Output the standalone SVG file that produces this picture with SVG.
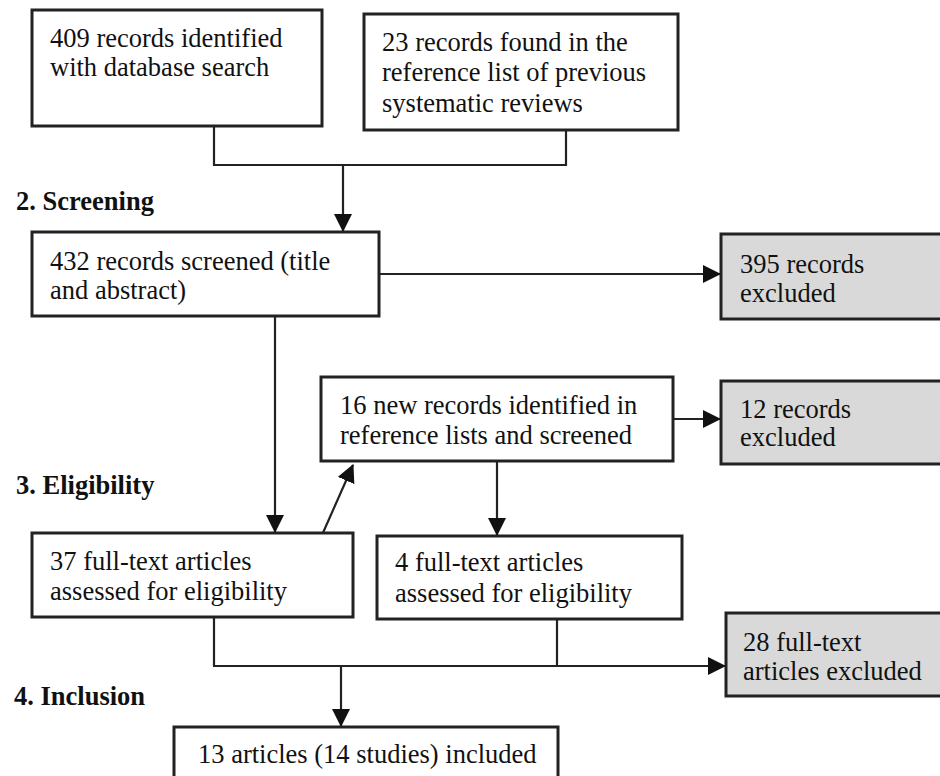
<svg xmlns="http://www.w3.org/2000/svg" width="940" height="776" viewBox="0 0 940 776">
<style>
.box{fill:#ffffff;stroke:#222222;stroke-width:3}
.ex{fill:#d9d9d9;stroke:#222222;stroke-width:3}
.t{font-family:'Liberation Serif','Tinos','Times New Roman','DejaVu Serif',serif;font-size:26.5px;fill:#111111}
.h{font-family:'Liberation Serif','Tinos','Times New Roman','DejaVu Serif',serif;font-size:26.5px;font-weight:bold;fill:#111111}
.c{fill:none;stroke:#222222;stroke-width:2.2}
</style>
<defs>
<marker id="ahb" markerWidth="18" markerHeight="18" refX="17" refY="9" orient="auto" markerUnits="userSpaceOnUse" viewBox="0 0 18 18">
<path d="M0,0 L18,9 L0,18 z" fill="#111111"/>
</marker>
</defs>
<rect width="940" height="776" fill="#ffffff"/>

<g id="labels">
<text class="h" x="16" y="210">2. Screening</text>
<text class="h" x="16" y="494">3. Eligibility</text>
<text class="h" x="14" y="705">4. Inclusion</text>
</g>

<g id="connectors">
<path class="c" d="M214,126 V165 H566 V130"/>
<path class="c" d="M343,165 V231" marker-end="url(#ahb)"/>
<path class="c" d="M379,274 H720" marker-end="url(#ahb)"/>
<path class="c" d="M275,316 V532" marker-end="url(#ahb)"/>
<path class="c" d="M322,535 L353,465" marker-end="url(#ahb)"/>
<path class="c" d="M673,419 H720" marker-end="url(#ahb)"/>
<path class="c" d="M497,461 V535" marker-end="url(#ahb)"/>
<path class="c" d="M214,617 V666 H725"/>
<path class="c" d="M557,619 V666"/>
<path class="c" d="M680,666 H725" marker-end="url(#ahb)"/>
<path class="c" d="M341,666 V726" marker-end="url(#ahb)"/>
</g>

<g id="n409">
<rect class="box" x="32" y="10" width="290" height="116"/>
<text class="t" x="50" y="47">409 records identified</text>
<text class="t" x="50" y="76">with database search</text>
</g>
<g id="n23">
<rect class="box" x="364" y="14" width="314" height="116"/>
<text class="t" x="382" y="51">23 records found in the</text>
<text class="t" x="382" y="81">reference list of previous</text>
<text class="t" x="382" y="112">systematic reviews</text>
</g>
<g id="n432">
<rect class="box" x="32" y="232" width="347" height="84"/>
<text class="t" x="50" y="270">432 records screened (title</text>
<text class="t" x="50" y="299">and abstract)</text>
</g>
<g id="n395">
<rect class="ex" x="721" y="234" width="230" height="85"/>
<text class="t" x="740" y="273">395 records</text>
<text class="t" x="740" y="302">excluded</text>
</g>
<g id="n16">
<rect class="box" x="321" y="377" width="352" height="84"/>
<text class="t" x="340" y="414">16 new records identified in</text>
<text class="t" x="340" y="444">reference lists and screened</text>
</g>
<g id="n12">
<rect class="ex" x="721" y="381" width="230" height="83"/>
<text class="t" x="740" y="418">12 records</text>
<text class="t" x="740" y="446">excluded</text>
</g>
<g id="n37">
<rect class="box" x="32" y="533" width="321" height="84"/>
<text class="t" x="50" y="570">37 full-text articles</text>
<text class="t" x="50" y="600">assessed for eligibility</text>
</g>
<g id="n4">
<rect class="box" x="377" y="536" width="305" height="83"/>
<text class="t" x="395" y="571">4 full-text articles</text>
<text class="t" x="395" y="602">assessed for eligibility</text>
</g>
<g id="n28">
<rect class="ex" x="726" y="613" width="225" height="83"/>
<text class="t" x="743" y="651">28 full-text</text>
<text class="t" x="743" y="680">articles excluded</text>
</g>
<g id="n13">
<rect class="box" x="174" y="727" width="384" height="70"/>
<text class="t" x="198" y="763">13 articles (14 studies) included</text>
</g>
</svg>
